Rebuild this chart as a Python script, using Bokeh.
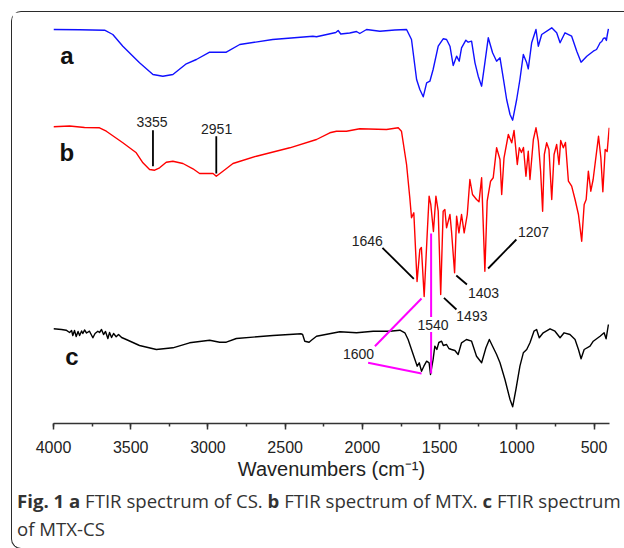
from bokeh.plotting import figure
from bokeh.models import Range1d, Div, SingleIntervalTicker
from bokeh.layouts import column
from bokeh.core.properties import value
from bokeh.embed import file_html
from bokeh.resources import INLINE

# ---------------- data (wavenumber cm^-1, offset transmittance a.u.) ----------------
# a: CS
wn_a = [4000, 3831, 3669, 3616, 3551, 3443, 3356, 3292, 3227, 3140, 3075, 2989, 2881, 2794, 2581,
        2321, 2297, 2172, 2157, 2140, 2082, 2038, 2017, 1973, 1887, 1790, 1714, 1682, 1649, 1628,
        1606, 1584, 1563, 1542, 1509, 1477, 1455, 1433, 1412, 1390, 1373, 1358, 1330, 1315, 1293,
        1271, 1250, 1228, 1207, 1185, 1157, 1131, 1109, 1088, 1066, 1044, 1027, 1001, 980, 958,
        936, 926, 904, 876, 861, 839, 774, 742, 720, 688, 645, 612, 584, 547, 505, 484, 470, 461,
        450, 440, 429, 420, 415, 407]
t_a = [394, 393.7, 393.3, 389, 377.3, 360.7, 349, 347.3, 349, 359.7, 364, 371.3, 371.3, 379, 384,
       387.3, 386.7, 391, 393, 389.5, 390.5, 392, 390, 394, 392.3, 393.5, 394, 384, 344, 334,
       326.7, 340.7, 342.3, 354, 377.3, 384.7, 384, 377.3, 358, 367.3, 362.3, 375.7, 383.3, 381.3, 382.3,
       360.7, 347.3, 337.3, 360.7, 385.7, 370.7, 362.3, 365.7, 345.7, 324, 309, 303.3, 324, 344, 369,
       360.7, 354.7, 380.7, 394, 377.3, 389, 395.7, 390.7, 380.7, 390.7, 387.3, 372.3, 361.3, 367.3, 372.3, 374, 378, 380.7,
       382, 385, 385.7, 383, 388, 394.7]

# b: MTX
wn_b = [4000, 3896, 3799, 3702, 3658, 3551, 3464, 3421, 3378, 3345, 3313, 3270, 3227, 3162, 3097,
        3054, 2967, 2946, 2903, 2838, 2686, 2470, 2297, 2211, 2168, 2103, 2017, 1844, 1768, 1747,
        1714, 1693, 1682, 1667, 1646, 1628, 1618, 1600, 1580, 1568, 1557, 1540, 1524, 1509, 1493,
        1477, 1466, 1455, 1433, 1423, 1403, 1390, 1375, 1358, 1341, 1321, 1304, 1287, 1261, 1245,
        1228, 1207, 1192, 1170, 1153, 1131, 1109, 1098, 1083, 1055, 1033, 1018, 997, 984, 970,
        957, 941, 926, 915, 893, 876, 861, 846, 833, 822, 807, 792, 774, 759, 742, 727, 716, 699,
        685, 666, 645, 623, 601, 580, 564, 551, 537, 521, 506, 471, 456, 443, 428, 415, 402]
t_b = [296.7, 297.5, 296, 295.7, 292.3, 280.7, 270.7, 260.7, 254, 253.3, 255.7, 261.3, 262.3, 260, 254.7,
       250, 250, 247.3, 252.3, 260, 267.3, 275.7, 284, 290.7, 292.3, 292.3, 294.7, 294, 295.7, 292.3,
       259, 225.7, 205.7, 210.7, 142, 174, 176, 127, 190.7, 227.3, 219, 192, 227.3, 212.3, 129,
       212.3, 214, 195.7, 209, 192.3, 150.7, 207.3, 190.7, 209, 190.7, 209, 244, 229, 224, 221.7,
       245.7, 152.3, 222.3, 242.3, 245.7, 275.7, 264, 229, 265.7, 289, 280.7, 293, 259, 275.7, 271,
       276, 247.3, 272.3, 244, 284, 295.7, 282.3, 252.3, 212.3, 269, 280.7, 274, 224, 269, 279, 259, 283, 275.7,
       281, 242.3, 237.3, 224, 209, 182.3, 219, 224, 252.3, 232.3, 244, 287.3, 265.7, 231.7, 274, 272, 295.7]

# c: MTX-CS
wn_c = [4000, 3948, 3918, 3896, 3883, 3875, 3864, 3853, 3841, 3831, 3818, 3810, 3799, 3786, 3767,
        3745, 3731, 3713, 3702, 3689, 3676, 3663, 3648, 3637, 3624, 3611, 3594, 3579, 3559, 3529,
        3443, 3334, 3227, 3119, 2989, 2924, 2881, 2816, 2579, 2396, 2387, 2373, 2345, 2330, 2297,
        2146, 2038, 1930, 1823, 1757, 1725, 1704, 1682, 1660, 1645, 1632, 1617, 1602, 1584, 1568,
        1559, 1542, 1531, 1518, 1505, 1487, 1476, 1455, 1440, 1423, 1401, 1380, 1358, 1326, 1293,
        1261, 1228, 1200, 1178, 1157, 1131, 1109, 1077, 1044, 1027, 1006, 980, 958, 936, 915,
        889, 872, 855, 829, 785, 753, 720, 694, 656, 623, 601, 584, 564, 526, 505, 481, 461, 435, 422, 407]
t_c = [94.7, 94, 93.3, 91, 93, 88, 93, 87, 92, 88, 92.5, 90, 93.5, 90.5, 92.3,
       85.7, 90, 92.3, 91, 94, 89, 92, 85, 91, 86, 90, 86.7, 89, 86, 84,
       78, 74, 75.7, 80.7, 83.3, 81.3, 81.3, 85, 88, 89.7, 89, 82.3, 81.3, 83.3, 87.3,
       91.7, 90.7, 92.3, 92.3, 93.3, 90.7, 84, 74, 64, 57.3, 60.7, 52.3, 57.3, 62.3, 60.7,
       49, 64, 77.3, 74, 81, 82.3, 78, 79, 75, 74, 73, 69, 80.7, 84, 82.3,
       67.3, 60.7, 75.7, 84, 77.3, 69, 60.7, 44, 24, 16.7, 34, 57.3, 70.7, 74, 80.7,
       92.3, 94, 85.7, 90.7, 94.7, 92.3, 85.7, 90.7, 89, 84, 74, 64.7, 74, 77.3, 82.3, 85, 87.3, 90.7, 84.7, 99]

# curve letters
curve_names = ["a", "b", "c"]
curve_wn = [3913, 3913, 3880]
curve_t = [368, 271, 67]

# peak labels (black leaders)
peak_text = ["3355", "2951", "1646", "1207", "1403", "1493"]
peak_text_wn = [3362, 2944, 1968, 892, 1216, 1291]
peak_text_t = [302, 294.7, 183, 191.5, 130.7, 108]
lead_wn0 = [3356, 2946, 1870, 1003, 1392, 1472]
lead_t0 = [293.3, 287.3, 175.7, 184, 148, 125.7]
lead_wn1 = [3356, 2946, 1667, 1186, 1323, 1391]
lead_t1 = [257.3, 250, 144.7, 155, 139, 114]

# shared peaks (magenta leaders)
shared_text = ["1540", "1600"]
shared_text_wn = [1543, 2025]
shared_text_t = [99, 70]
mag_wn0 = [1555, 1555, 1919, 1963]
mag_t0 = [190, 91.5, 77.3, 60.7]
mag_wn1 = [1555, 1555, 1617, 1617]
mag_t1 = [106.5, 50, 125, 50]

# caption pieces (text, bold?)
caption_line1 = [("Fig. 1", True), ("a", True), ("FTIR spectrum of CS.", False), ("b", True),
                 ("FTIR spectrum of MTX.", False), ("c", True), ("FTIR spectrum", False)]
caption_line2 = [("of MTX-CS", False)]

# ---------------- figure ----------------
p = figure(width=600, height=476, x_range=Range1d(4000, 400), y_range=Range1d(0, 410),
           output_backend="svg", toolbar_location=None, y_axis_location=None,
           min_border_left=41, min_border_right=3, min_border_top=1, min_border_bottom=65)
p.outline_line_color = None
p.xgrid.visible = False
p.ygrid.visible = False

lw = 1.4
p.line(wn_a, t_a, line_color="#1010ff", line_width=lw, line_join="round")
p.line(wn_b, t_b, line_color="#ff0000", line_width=lw, line_join="round")
p.line(wn_c, t_c, line_color="#000000", line_width=lw, line_join="round")

p.segment(x0=lead_wn0, y0=lead_t0, x1=lead_wn1, y1=lead_t1, line_color="#000000", line_width=1.8)
p.segment(x0=mag_wn0, y0=mag_t0, x1=mag_wn1, y1=mag_t1, line_color="#ff00ff", line_width=2)

font = value("Liberation Sans")
p.text(x=peak_text_wn + shared_text_wn, y=peak_text_t + shared_text_t, text=peak_text + shared_text,
       text_font=font, text_font_size="14px", text_color="#222222",
       text_align="center", text_baseline="middle")
p.text(x=curve_wn, y=curve_t, text=curve_names, text_font=font, text_font_size="24px",
       text_font_style="bold", text_color="#111111", text_align="center", text_baseline="middle")

ax = p.xaxis[0]
ax.ticker = SingleIntervalTicker(interval=500, num_minor_ticks=2)
ax.axis_line_color = "#333333"
ax.axis_line_width = 1.5
ax.major_tick_line_color = "#333333"
ax.major_tick_line_width = 1.5
ax.minor_tick_line_color = "#333333"
ax.minor_tick_line_width = 1.5
ax.major_tick_in = 0
ax.major_tick_out = 6
ax.minor_tick_in = 0
ax.minor_tick_out = 3
ax.major_label_text_font = "Liberation Sans"
ax.major_label_text_font_size = "16px"
ax.major_label_text_color = "#222222"
ax.major_label_standoff = 11
ax.axis_label = "Wavenumbers (cm\u207b\u00b9)"
ax.axis_label_text_font = "Liberation Sans"
ax.axis_label_text_font_size = "20px"
ax.axis_label_text_font_style = "normal"
ax.axis_label_text_color = "#222222"
ax.axis_label_standoff = 2


def piece(txt, bold):
    w = "700" if bold else "400"
    return f'<span style="position:relative;top:-6px;font-weight:{w}">{txt}</span>'


html = (" ".join(piece(t, b) for t, b in caption_line1) + "<br>" +
        " ".join(piece(t, b) for t, b in caption_line2))

caption = Div(text=html, width=608, height=50,
              styles={"font-family": "'Open Sans'", "font-size": "18.6px", "line-height": "28px",
                      "color": "#333333", "white-space": "nowrap"})

layout = column(p, caption, margin=(11, 0, 0, 11),
                styles={"border-left": "1.5px solid #2b2b2b", "border-top": "1.5px solid #2b2b2b",
                        "border-bottom": "1.5px solid #2b2b2b",
                        "border-top-left-radius": "10px", "border-bottom-left-radius": "10px"})

open("out.html", "w").write(file_html(layout, INLINE))
